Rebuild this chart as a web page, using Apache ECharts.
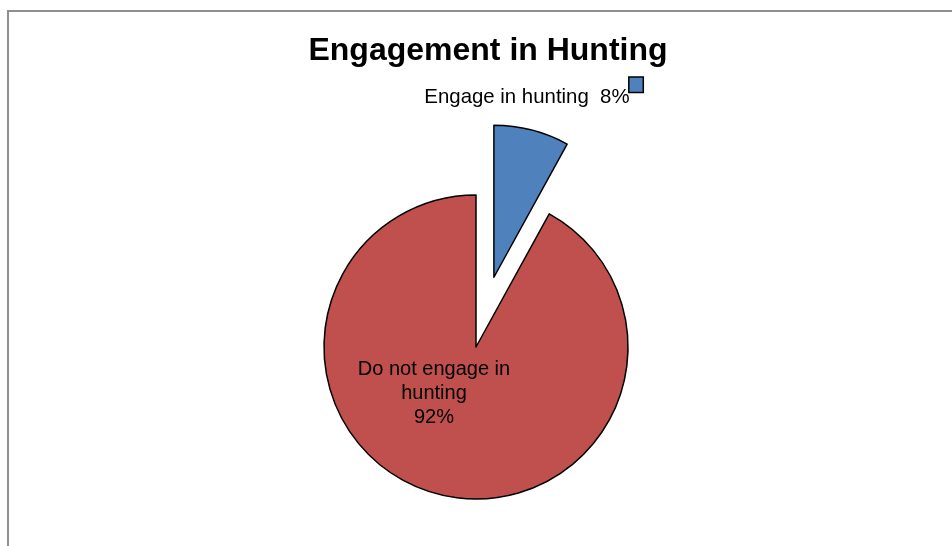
<!DOCTYPE html>
<html>
<head>
<meta charset="utf-8">
<script src="https://cdn.jsdelivr.net/npm/echarts@6/dist/echarts.min.js"></script>
<style>
html,body{margin:0;padding:0;background:#fff;}
#chart{width:952px;height:546px;}
</style>
</head>
<body>
<div id="chart"></div>
<script>
// Data
const titleText = 'Engagement in Hunting';
const categories = ['Engage in hunting', 'Do not engage in hunting'];
const labelNames = ['Engage in hunting', 'Do not engage in\nhunting'];
const values = [8, 92];
const colors = ['#4f81bd', '#c0504d'];

const chart = echarts.init(document.getElementById('chart'), null, {renderer: 'canvas'});

const data = categories.map((c, i) => ({
  name: c,
  value: values[i],
  selected: i === 0,
  itemStyle: {color: colors[i]}
}));

const option = {
  backgroundColor: '#ffffff',
  animation: false,
  title: {
    text: titleText,
    left: 483,
    textAlign: 'center',
    top: 30,
    textStyle: {
      fontFamily: 'Liberation Sans, Arial, sans-serif',
      fontWeight: 'bold',
      fontSize: 32,
      color: '#000'
    }
  },
  graphic: [{
    type: 'rect',
    shape: {x: 8, y: 11, width: 1200, height: 800},
    style: {fill: 'none', stroke: '#8f8f8f', lineWidth: 2},
    silent: true,
    z: 0
  }],
  series: [{
    type: 'pie',
    center: [476, 347],
    radius: 152,
    startAngle: 90,
    clockwise: true,
    selectedMode: 'single',
    selectedOffset: 72,
    avoidLabelOverlap: false,
    itemStyle: {borderColor: '#000', borderWidth: 1.5},
    emphasis: {disabled: true},
    labelLine: {show: false},
    label: {
      show: true,
      position: 'inside',
      fontFamily: 'Liberation Sans, Arial, sans-serif',
      fontSize: 20,
      color: '#000',
      lineHeight: 24,
      formatter: function (p) {
        if (p.dataIndex === 0) {
          return '{t|' + labelNames[0] + '  ' + p.percent + '%}{b| }';
        }
        return labelNames[p.dataIndex] + '\n' + p.percent + '%';
      },
      rich: {
        t: {fontFamily: 'Liberation Sans, Arial, sans-serif', fontSize: 20.4, color: '#000', lineHeight: 24, verticalAlign: 'bottom'},
        b: {width: 13, height: 14, lineHeight: 30, fontSize: 10, verticalAlign: 'top', color: '#4f81bd', backgroundColor: '#4f81bd', borderColor: '#000', borderWidth: 1.5}
      }
    },
    labelLayout: function (params) {
      if (params.dataIndex === 1) {
        return {x: 434, y: 393, align: 'center', verticalAlign: 'middle'};
      }
      return {dx: 129, dy: -123, align: 'right', verticalAlign: 'top'};
    },
    data: data
  }]
};
chart.setOption(option);
</script>
</body>
</html>
